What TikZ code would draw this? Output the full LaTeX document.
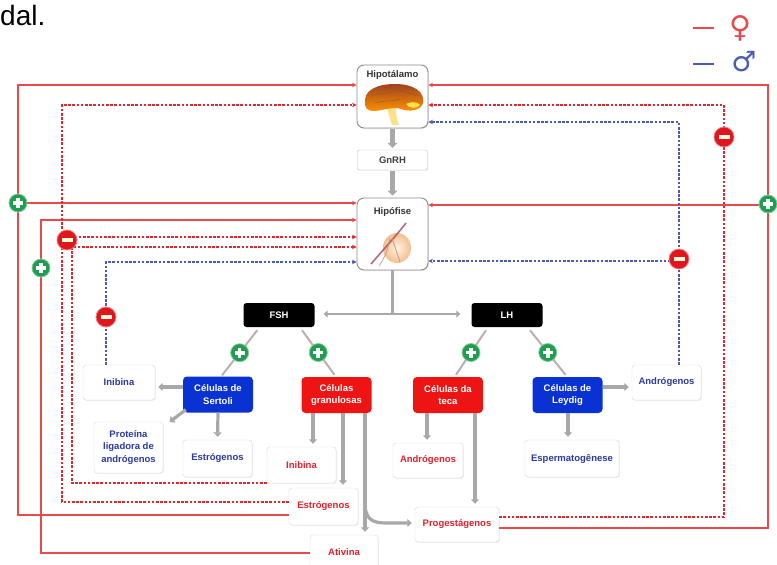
\documentclass[tikz,border=0pt]{standalone}
\usepackage{fontspec}
\setmainfont{Liberation Sans}
\newfontfamily\symfont{DejaVu Sans}
\usetikzlibrary{arrows.meta,shadows,calc}

\definecolor{fbred}{HTML}{E84A4C}
\definecolor{dashred}{HTML}{E0282E}
\definecolor{fbblue}{HTML}{4A5BB0}
\definecolor{txtred}{HTML}{E4202A}
\definecolor{txtblue}{HTML}{2B3A9E}
\definecolor{cellblue}{HTML}{0A32D2}
\definecolor{cellred}{HTML}{EE1414}
\definecolor{linkgray}{HTML}{A8A8A8}
\definecolor{plusgreen}{HTML}{1E9E4E}
\definecolor{minusred}{HTML}{E0161E}

\tikzset{
  lbl/.style={font=\bfseries\fontsize{9.5}{12.5}\selectfont, align=center},
  outbox/.style={lbl, draw=black!15, fill=white, rounded corners=3pt, inner sep=1pt,
    drop shadow={opacity=0.15, shadow xshift=0.8pt, shadow yshift=-0.8pt}},
  outred/.style={outbox, text=txtred},
  outblue/.style={outbox, text=txtblue},
  cellbox/.style={lbl, text=white, rounded corners=4pt, inner sep=1pt,
    minimum width=70pt, minimum height=36pt},
  hormone/.style={lbl, fill=black, text=white, rounded corners=3pt,
    minimum width=71pt, minimum height=24pt},
  organ/.style={draw=black!45, fill=white, line width=0.9pt, rounded corners=7pt,
    drop shadow={opacity=0.2, shadow xshift=1pt, shadow yshift=-1pt}},
  organtitle/.style={lbl, text=black!80, font=\bfseries\fontsize{9.5}{11}\selectfont},
  fbtip/.tip={Stealth[length=4.5pt,width=4.5pt]},
  fbsolid/.style={fbred, line width=1.7pt, -fbtip},
  fbdashr/.style={dashred, line width=1.6pt, dash pattern=on 2.6pt off 1.6pt, -fbtip},
  fbdashb/.style={fbblue, line width=1.6pt, dash pattern=on 2.6pt off 1.6pt, -fbtip},
  outarrow/.style={linkgray, line width=3.2pt, -{Triangle[length=4.5pt,width=8pt]}, shorten >=3pt},
  linkline/.style={linkgray!75!pink, line width=2pt},
  plusc/.style={circle, fill=plusgreen, draw=plusgreen!55!white, line width=0.8pt,
    minimum size=18pt, inner sep=0pt,
    path picture={
      \fill[white] ($(path picture bounding box.center)+(-5pt,-1.8pt)$) rectangle ($(path picture bounding box.center)+(5pt,1.8pt)$);
      \fill[white] ($(path picture bounding box.center)+(-1.8pt,-5pt)$) rectangle ($(path picture bounding box.center)+(1.8pt,5pt)$);}},
  minusc/.style={circle, fill=minusred, draw=minusred!55!white, line width=0.8pt,
    minimum size=20pt, inner sep=0pt,
    path picture={
      \fill[white!85!yellow] ($(path picture bounding box.center)+(-5.5pt,-1.9pt)$) rectangle ($(path picture bounding box.center)+(5.5pt,1.9pt)$);}}
}

\begin{document}
\begin{tikzpicture}[x=1pt, y=-1pt]
\useasboundingbox (0,0) rectangle (777,565);

% caption fragment and legend
\node[anchor=base west, inner sep=0pt, font=\fontsize{28}{28}\selectfont] (cap) at (0,25) {dal.};
\draw[fbred, line width=2pt] (693,28) -- (714,28);
\node[text=fbred, font=\symfont\fontsize{30}{30}\selectfont, inner sep=0pt] (fem) at (740,28) {♀};
\draw[fbblue, line width=2pt] (693,64) -- (714,64);
\node[text=fbblue, font=\symfont\fontsize{28}{28}\selectfont, inner sep=0pt] (masc) at (744,62) {♂};

% hypothalamus and pituitary
\node[organ, minimum width=71pt, minimum height=63pt] (hipot) at (392.5,96.5) {};
\node[organtitle] (hipottitle) at (392.5,75) {Hipotálamo};
\node[draw=black!25, fill=white, rounded corners=2pt, lbl, text=black!75, minimum width=70pt, minimum height=20pt,
  drop shadow={opacity=0.12, shadow xshift=0.8pt, shadow yshift=-0.8pt}] (gnrh) at (392.5,160) {GnRH};
\node[organ, minimum width=71pt, minimum height=72pt] (hipof) at (392.5,234) {};
\node[organtitle] (hipoftitle) at (392.5,212) {Hipófise};

% brain sketch: stem, cerebrum, cerebellum
\fill[yellow!55!orange!45] (386,103) .. controls (388,112) and (390,119) .. (392,125)
   -- (399,125) .. controls (396,117) and (395,110) .. (397,103) -- cycle;
\shade[top color=brown!70!red!75!black, bottom color=orange!85!yellow]
  (365,104) .. controls (363,90) and (377,84) .. (395,84)
  .. controls (414,84) and (425,92) .. (423,103)
  .. controls (421,111) and (408,112) .. (401,109)
  .. controls (394,106) and (381,111) .. (373,111)
  .. controls (367,111) and (365,107) .. (365,104) -- cycle;
\draw[brown!60!black, line width=0.4pt, opacity=0.55]
  (371,96) .. controls (379,92) and (386,95) .. (392,92)
  (398,90) .. controls (405,93) and (410,92) .. (417,96)
  (375,103) .. controls (384,100) and (392,102) .. (400,99);
\fill[orange!35!yellow!70] (406,104) .. controls (411,101) and (418,102) .. (420,105)
   .. controls (417,109) and (409,109) .. (406,104) -- cycle;

% pituitary sketch: gland and stalk
\shade[inner color=orange!10!white, outer color=brown!40!orange!50] (397,248) ellipse [x radius=14, y radius=15];
\draw[violet!45!brown, line width=1.6pt, opacity=0.8] (371,264) .. controls (383,250) and (396,236) .. (406,223);
\draw[violet!35!brown!70, line width=0.8pt, opacity=0.8] (379,266) .. controls (386,256) and (388,248) .. (390,238)
  (400,262) -- (392,238);

% hormones
\node[hormone] (fsh) at (279,315) {FSH};
\node[hormone] (lh) at (507,315) {LH};

% cells
\node[cellbox, fill=cellblue] (sertoli) at (218,394.5) {Células de\\Sertoli};
\node[cellbox, fill=cellred] (gran) at (336.5,395) {Células\\granulosas};
\node[cellbox, fill=cellred] (teca) at (448,395) {Células da\\teca};
\node[cellbox, fill=cellblue] (leydig) at (567.5,395) {Células de\\Leydig};

% products
\node[outblue, minimum width=72pt, minimum height=35pt] (inibB) at (119,382.5) {Inibina};
\node[outblue, minimum width=69pt, minimum height=51pt] (prot) at (128.5,447.5) {Proteína\\ligadora de\\andrógenos};
\node[outblue, minimum width=69pt, minimum height=37pt] (estB) at (217.5,458.5) {Estrógenos};
\node[outred, minimum width=69pt, minimum height=36pt] (inibR) at (301.5,465) {Inibina};
\node[outred, minimum width=69pt, minimum height=37pt] (estR) at (323.5,506.5) {Estrógenos};
\node[outred, minimum width=68pt, minimum height=34pt] (ativ) at (344,552) {Ativina};
\node[outred, minimum width=70pt, minimum height=35pt] (andR) at (428,460.5) {Andrógenos};
\node[outred, minimum width=84pt, minimum height=35pt] (prog) at (457,524.5) {Progestágenos};
\node[outblue, minimum width=94pt, minimum height=37pt] (esp) at (572,458.5) {Espermatogênese};
\node[outblue, minimum width=69pt, minimum height=35pt] (andB) at (666.5,382.5) {Andrógenos};

% axis connectors
\draw[linkgray, line width=5pt, -{Triangle[length=5pt,width=10pt]}, shorten <=1pt, shorten >=2pt] (hipot.south) -- (gnrh.north);
\draw[linkgray, line width=5pt, -{Triangle[length=5pt,width=10pt]}, shorten <=1pt, shorten >=2pt] (gnrh.south) -- (hipof.north);
\draw[linkgray, line width=2.6pt] (hipof.south) -- (hipof.south |- 0,314);
\draw[linkgray, line width=2.6pt, {Triangle[length=4pt,width=7pt]}-{Triangle[length=4pt,width=7pt]},
  shorten <=9pt, shorten >=11pt] (fsh.east |- 0,314) -- (lh.west |- 0,314);

% gonadotropin stimulation
\draw[linkline] ($(fsh.south west)+(14,3)$) -- node[plusc] (pf1) {} ($(sertoli.north)+(4,-1)$);
\draw[linkline] ($(fsh.south)+(23,3)$) -- node[plusc] (pf2) {} ($(gran.north)+(-2,-2)$);
\draw[linkline] ($(lh.south)+(-21,3)$) -- node[plusc] (pl1) {} ($(teca.north)+(8,-2)$);
\draw[linkline] ($(lh.south)+(23,3)$) -- node[plusc] (pl2) {} ($(leydig.north)+(-2,-2)$);

% secretion arrows
\draw[outarrow] (sertoli.west |- 0,387) -- (inibB.east |- 0,387);
\draw[outarrow] ($(sertoli.south west)+(3,-3)$) -- ($(prot.north east)+(4,2)$);
\draw[outarrow] (sertoli.south) -- (estB.north);
\draw[outarrow] (gran.south -| 313,0) -- (inibR.north -| 313,0);
\draw[outarrow] (gran.south -| 343,0) -- (estR.north -| 343,0);
\draw[outarrow] (gran.south -| 365,0) -- (ativ.north -| 365,0);
\draw[outarrow] (365,503) .. controls (365,519) and (372,523) .. (386,523) -- (prog.west |- 0,523);
\draw[outarrow] (teca.south -| 427,0) -- (andR.north -| 427,0);
\draw[outarrow] (teca.south -| 475,0) -- (prog.north -| 475,0);
\draw[outarrow] (leydig.east |- 0,387) -- (andB.west |- 0,387);
\draw[outarrow] (leydig.south -| 568,0) -- (esp.north -| 568,0);

% feedback, left side
\draw[fbsolid] (estR.west |- 0,515) -| (18,85) -- (hipot.west |- 0,85);
\draw[fbsolid] (18,203) -- (hipof.west |- 0,203);
\draw[fbsolid] (ativ.west |- 0,553) -| (41,220) -- (hipof.west |- 0,220);
\draw[fbdashr] (estR.west |- 0,502) -| (62,105) -- (hipot.west |- 0,105);
\draw[fbdashr] (62,237) -- (hipof.west |- 0,237);
\draw[fbdashr] (inibR.south west) -| (72,247) -- (hipof.west |- 0,247);
\draw[fbdashb] (inibB.north -| 106,0) -- (106,262) -- (hipof.west |- 0,262);

% feedback, right side
\draw[fbsolid] (prog.east |- 0,528) -| (768,85) -- (hipot.east |- 0,85);
\draw[fbsolid] (768,205) -- (hipof.east |- 0,205);
\draw[fbdashr] (prog.east |- 0,517) -| (724,105) -- (hipot.east |- 0,105);
\draw[fbdashb] (andB.north -| 679,0) -- (679,122) -- (hipot.east |- 0,122);
\draw[fbdashb] (679,261) -- (hipof.east |- 0,261);

% feedback signs
\node[plusc] (pe1) at (18,203) {};
\node[plusc] (pa1) at (41,268) {};
\node[plusc] (pp1) at (768,204) {};
\node[minusc] (me1) at (67,240) {};
\node[minusc] (mi1) at (106,317) {};
\node[minusc] (mp1) at (724,137) {};
\node[minusc] (ma1) at (679,259) {};
\end{tikzpicture}
\end{document}
